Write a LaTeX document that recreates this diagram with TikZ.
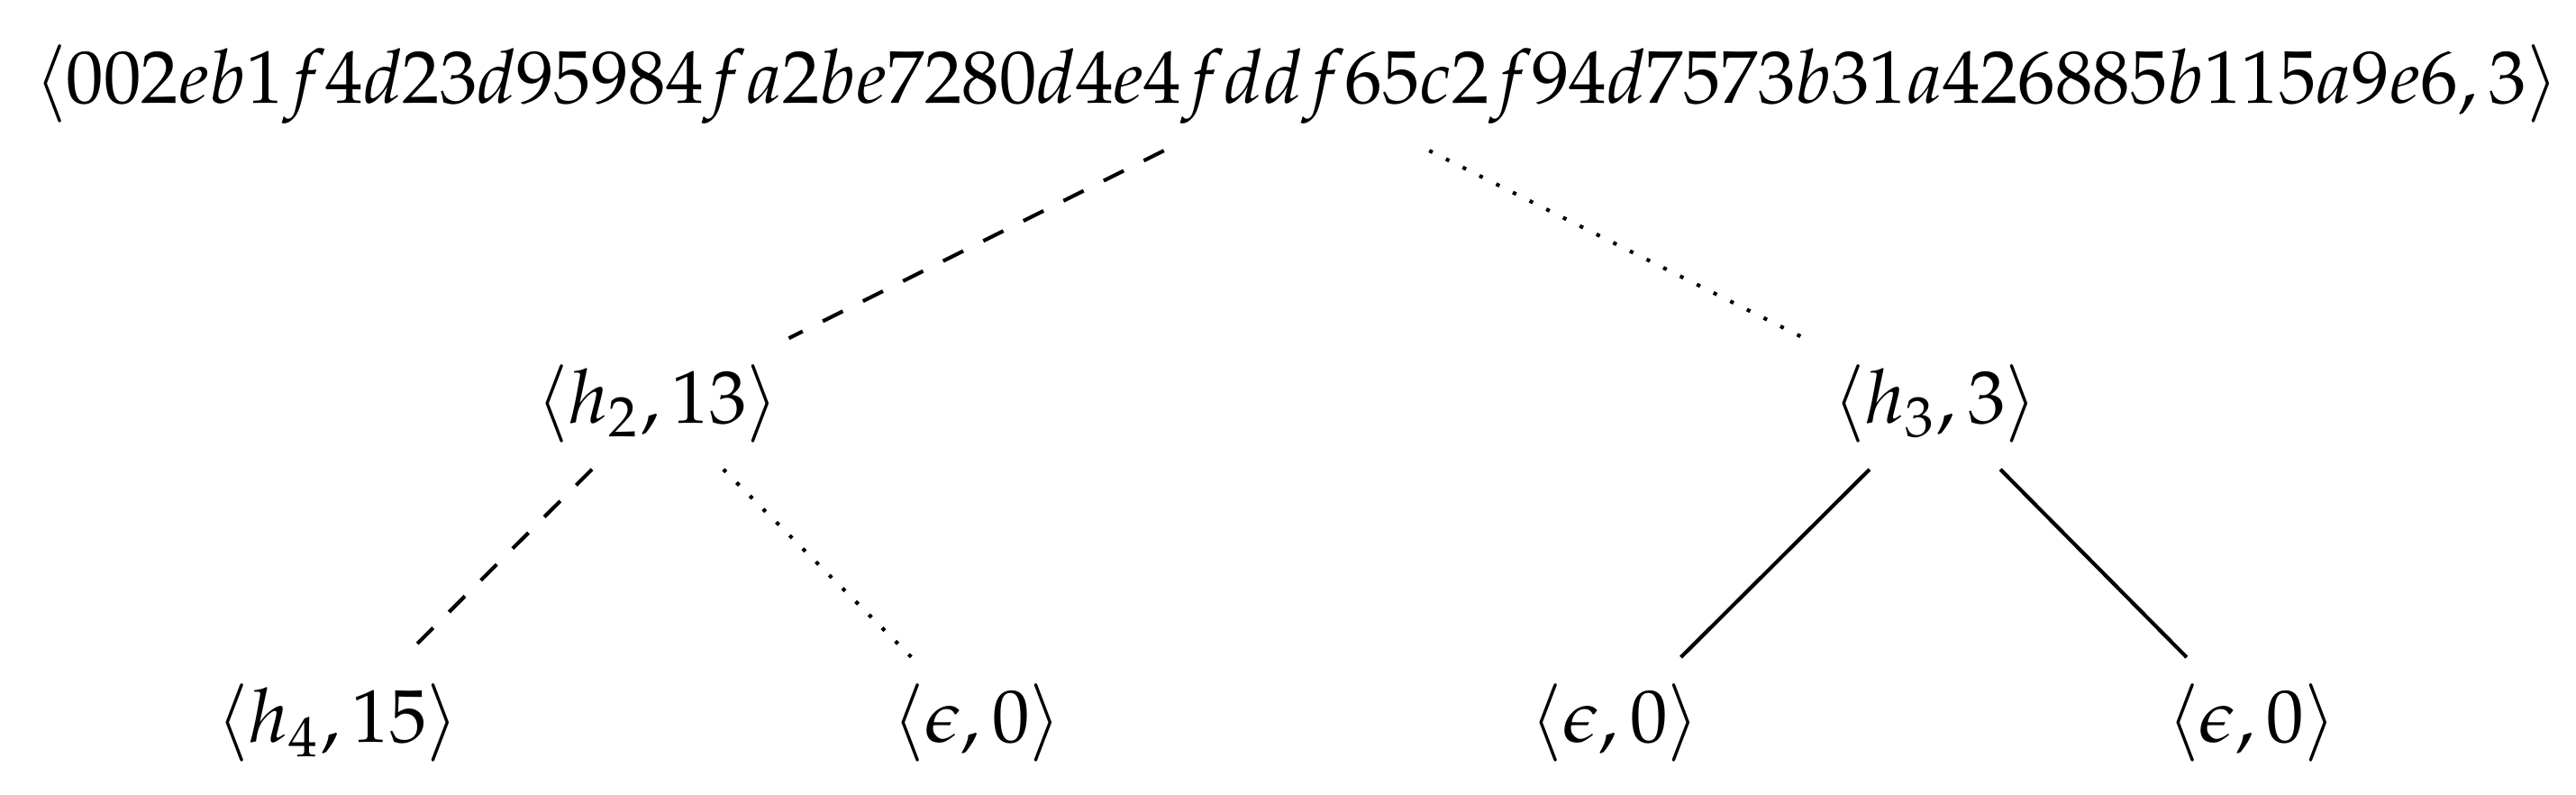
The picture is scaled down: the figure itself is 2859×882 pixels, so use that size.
\documentclass[tikz,border=0pt]{standalone}
\usepackage{amsmath}
\usepackage{amssymb}
\usepackage{mathpazo}
\usepackage{tikz}

\begin{document}
\begin{tikzpicture}[x=0.1205pt,y=-0.1205pt,line width=0.5pt]
\useasboundingbox (0,0) rectangle (2859,882);
\node (root) at (1439,93.5) {$\langle 002eb1f4d23d95984fa2be7280d4e4fddf65c2f94d7573b31a426885b115a9e6, 3\rangle$};
\node (h2) at (730,448) {$\langle h_2, 13\rangle$};
\node (h3) at (2148,448) {$\langle h_3, 3\rangle$};
\node (h4) at (375,802) {$\langle h_4, 15\rangle$};
\node (e1) at (1084.5,802) {$\langle \epsilon, 0\rangle$};
\node (e2) at (1792.5,802) {$\langle \epsilon, 0\rangle$};
\node (e3) at (2499,802) {$\langle \epsilon, 0\rangle$};
\draw [dashed] (root) -- (h2);
\draw [dotted] (root) -- (h3);
\draw [dashed] (h2) -- (h4);
\draw [dotted] (h2) -- (e1);
\draw (h3) -- (e2);
\draw (h3) -- (e3);

\end{tikzpicture}
\end{document}
